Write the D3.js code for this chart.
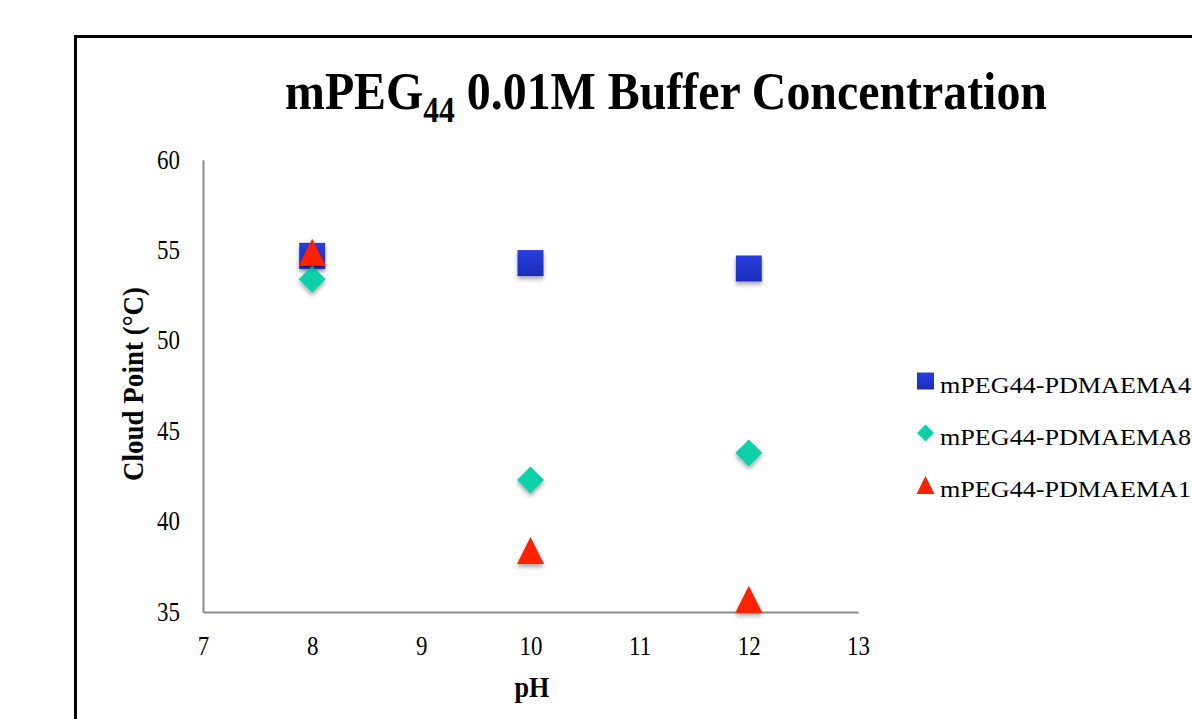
<!DOCTYPE html>
<html><head><meta charset="utf-8">
<script src="https://cdn.jsdelivr.net/npm/d3@7"></script>
<style>body{margin:0;background:#fff;overflow:hidden}svg{display:block}</style>
</head><body>
<script>
const categories = [8, 10, 12];
const seriesNames = ["mPEG44-PDMAEMA40", "mPEG44-PDMAEMA80", "mPEG44-PDMAEMA120"];
const squareValues = [54.7, 54.3, 54.0];
const diamondValues = [53.4, 42.3, 43.8];
const triangleValues = [54.9, 38.4, 35.7];
const xTicks = [7, 8, 9, 10, 11, 12, 13];
const yTicks = [35, 40, 45, 50, 55, 60];

const W = 1192, H = 719;
const svg = d3.select("body").append("svg").attr("width", W).attr("height", H);
const defs = svg.append("defs");
const f = defs.append("filter").attr("id","sh").attr("x","-50%").attr("y","-50%").attr("width","200%").attr("height","200%");
f.append("feDropShadow").attr("dx",0).attr("dy",3).attr("stdDeviation",2).attr("flood-color","#000").attr("flood-opacity",0.35);
const g1 = defs.append("linearGradient").attr("id","blu").attr("x1",0).attr("y1",0).attr("x2",0).attr("y2",1);
g1.append("stop").attr("offset","0%").attr("stop-color","#2a3ee0");
g1.append("stop").attr("offset","100%").attr("stop-color","#1c2cb8");

svg.append("rect").attr("x",75.5).attr("y",36.5).attr("width",1300).attr("height",800)
  .attr("fill","none").attr("stroke","#000").attr("stroke-width",3);

const x = d3.scaleLinear().domain([7,13]).range([203,858]);
const y = d3.scaleLinear().domain([35,60]).range([612,160]);

const font = "'Liberation Serif','Times New Roman',serif";

function fitX(sel, tx, ty, sx, anchor) {
  sel.attr("x",0).attr("y",0).attr("text-anchor",anchor||"middle")
     .attr("transform",`translate(${tx},${ty}) scale(${sx},1)`);
}

// title
const title = svg.append("text").attr("font-family",font).attr("font-weight","bold").attr("font-size",53).attr("text-anchor","start");
title.append("tspan").text("mPEG");
title.append("tspan").attr("font-size",35).attr("dy",13).text("44");
title.append("tspan").attr("dy",-13).text(" 0.01M Buffer Concentration");
const tw = title.node().getComputedTextLength();
title.attr("transform",`translate(285,109) scale(${762 / tw},1)`);

const xa = svg.append("g").attr("transform","translate(0,612)").call(d3.axisBottom(x).tickValues(xTicks).tickSize(0).tickFormat(d3.format("d")));
const ya = svg.append("g").attr("transform","translate(203,0)").call(d3.axisLeft(y).tickValues(yTicks).tickSize(0).tickFormat(d3.format("d")));
[xa,ya].forEach(a=>{
  a.select(".domain").attr("stroke","#8c8c8c").attr("stroke-width",2);
  a.selectAll("text").attr("font-family",font).attr("font-size",27).attr("fill","#000").attr("dy",null);
});
xa.selectAll(".tick text").each(function(){ fitX(d3.select(this), 0, 43, 0.85, "middle"); });
ya.selectAll(".tick text").each(function(){ fitX(d3.select(this), -23, 8, 0.85, "end"); });

const yl = svg.append("text").attr("font-family",font).attr("font-weight","bold").attr("font-size",30).attr("text-anchor","middle").text("Cloud Point (°C)");
const ylw = yl.node().getComputedTextLength();
yl.attr("transform",`translate(143,384) rotate(-90) scale(${194/ylw},1)`);

const xl = svg.append("text").attr("font-family",font).attr("font-weight","bold").attr("font-size",30).text("pH");
fitX(xl, 532, 697, 0.87, "middle");

// custom marker shapes (width = height = sqrt(size)), drawn by d3.symbol
const triType = {draw(ctx, size){ const s=Math.sqrt(size)/2; ctx.moveTo(0,-s); ctx.lineTo(s,s); ctx.lineTo(-s,s); ctx.closePath(); }};
const diaType = {draw(ctx, size){ const s=Math.sqrt(size)/2; ctx.moveTo(0,-s); ctx.lineTo(s,0); ctx.lineTo(0,s); ctx.lineTo(-s,0); ctx.closePath(); }};

const sq = d3.symbol().type(d3.symbolSquare).size(26*26);
const dm = d3.symbol().type(diaType).size(27*27);
const tr = d3.symbol().type(triType).size(27*27);

const specs = [
  {vals: squareValues, path: sq, fill: "url(#blu)"},
  {vals: diamondValues, path: dm, fill: "#0fcfa8"},
  {vals: triangleValues, path: tr, fill: "#ff2200"}
];
specs.forEach(s=>{
  svg.append("g").selectAll("path").data(categories.map((c,i)=>[c,s.vals[i]])).join("path")
    .attr("d", s.path).attr("fill", s.fill).attr("filter","url(#sh)")
    .attr("transform", d=>`translate(${x(d[0])},${y(d[1])})`);
});

// legend
const lsq = d3.symbol().type(d3.symbolSquare).size(17*17);
const ldm = d3.symbol().type(diaType).size(17*17);
const ltr = d3.symbol().type(triType).size(18*18);
const lsyms = [{p:lsq,f:"url(#blu)"},{p:ldm,f:"#0fcfa8"},{p:ltr,f:"#ff2200"}];
const probe = svg.append("text").attr("font-family",font).attr("font-size",24).text("mPEG44-PDMAEMA");
const lsx = 238 / probe.node().getComputedTextLength();
probe.remove();
const lg = svg.append("g");
seriesNames.forEach((n,i)=>{
  const yy = 381 + i*52;
  lg.append("path").attr("d", lsyms[i].p).attr("fill", lsyms[i].f).attr("transform",`translate(925.5,${yy})`);
  const t = lg.append("text").attr("font-family",font).attr("font-size",24).text(n);
  fitX(t, 940, yy+12, lsx, "start");
});
</script>
</body></html>
